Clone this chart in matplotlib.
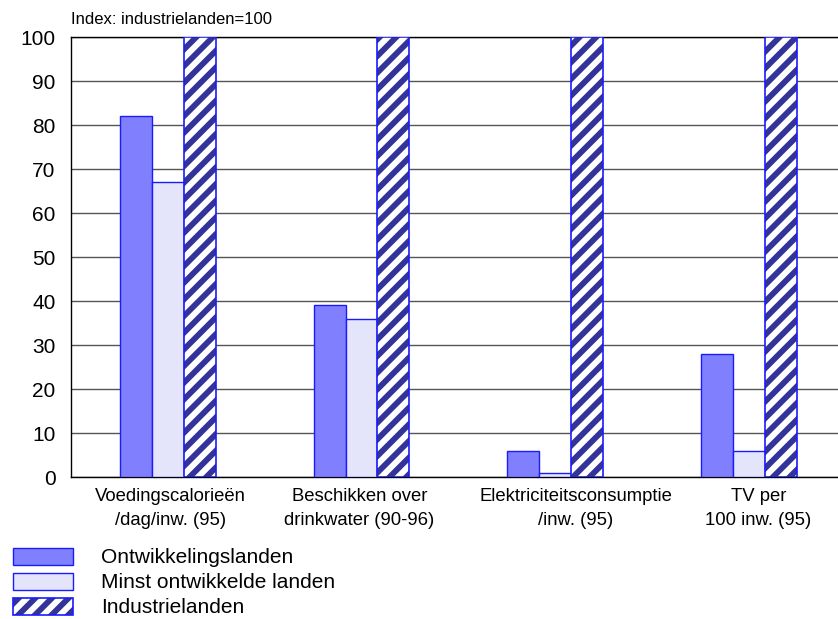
import matplotlib.pyplot as plt
import matplotlib.transforms as mtransforms
import numpy as np

plt.rcParams['font.family'] = ['Liberation Sans', 'DejaVu Sans']
plt.rcParams['hatch.linewidth'] = 4.2

categories = ["Voedingscalorieën\n/dag/inw. (95)",
              "Beschikken over\ndrinkwater (90-96)",
              "Elektriciteitsconsumptie\n/inw. (95)",
              "TV per\n100 inw. (95)"]
ontwikkelingslanden = [82, 39, 6, 28]
minst_ontwikkeld = [67, 36, 1, 6]
industrielanden = [100, 100, 100, 100]
series_names = ["Ontwikkelingslanden", "Minst ontwikkelde landen", "Industrielanden"]

fig = plt.figure(figsize=(8.38, 6.19), dpi=100)
ax = fig.add_axes([0.0847, 0.2294, 0.9153, 0.7108])

x = np.arange(len(categories))
w = 0.165
edge = "#1a1aff"
navy = "#333399"

b1 = ax.bar(x - w, ontwikkelingslanden, w, color="#8080ff", edgecolor=edge, linewidth=1, zorder=3)
b2 = ax.bar(x, minst_ontwikkeld, w, color="#e4e4fb", edgecolor=edge, linewidth=1, zorder=3)
# hatched bars: stripes first, blue outline drawn on top
b3 = ax.bar(x + w, industrielanden, w, color="white", edgecolor=navy, hatch="//", linewidth=0, zorder=3)
b3o = ax.bar(x + w, industrielanden, w, color="none", edgecolor=edge, linewidth=1.2, zorder=4)

ax.set_xlim(-0.5, 3.46)
ax.set_ylim(0, 100)
ax.set_yticks(np.arange(0, 101, 10))
ax.yaxis.grid(True, color="#555555", linewidth=1)
ax.set_axisbelow(True)
ax.tick_params(axis="y", length=0, labelsize=15, pad=11)
ax.tick_params(axis="x", length=0, labelsize=13.3, pad=8)
ax.set_xticks(x)
ax.set_xticklabels(categories, linespacing=1.5)

# nudge category labels a little sideways (in points)
label_shift = [2, -1.5, 15, 7]
for lab, dx in zip(ax.get_xticklabels(), label_shift):
    lab.set_transform(lab.get_transform() + mtransforms.ScaledTranslation(dx / 72, 0, fig.dpi_scale_trans))

ax.spines["right"].set_visible(False)
for s in ["left", "top", "bottom"]:
    ax.spines[s].set_color("black")
    ax.spines[s].set_linewidth(1)

fig.text(0.0847, 0.969, "Index: industrielanden=100", fontsize=12, va="center")

handles = [b1[0], b2[0], (b3[0], b3o[0])]
leg = fig.legend(handles, series_names, loc="upper left", bbox_to_anchor=(0.0155, 0.1155),
                 frameon=False, fontsize=15, handlelength=2.88, handleheight=0.9,
                 handletextpad=1.35, labelspacing=0.25, borderaxespad=0, borderpad=0)

fig.savefig("out.png", dpi=100)
